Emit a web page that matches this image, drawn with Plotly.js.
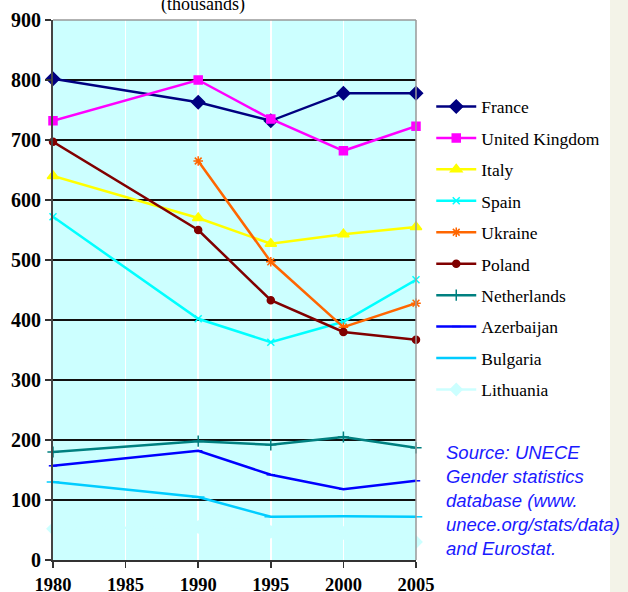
<!DOCTYPE html>
<html>
<head>
<meta charset="utf-8">
<script src="https://cdn.plot.ly/plotly-3.0.1.min.js"></script>
<style>html,body{margin:0;padding:0;background:#fff;}#chart{width:628px;height:592px;}</style>
</head>
<body>
<div id="chart"></div>
<script>
var years = [1980, 1990, 1995, 2000, 2005];
var yearTicks = [1980, 1985, 1990, 1995, 2000, 2005];
var countries = ["France", "United Kingdom", "Italy", "Spain", "Ukraine", "Poland", "Netherlands", "Azerbaijan", "Bulgaria", "Lithuania"];
var france = [802, 763, 732, 778, 778];
var unitedKingdom = [732, 800, 735, 682, 723];
var italy = [640, 570, 527, 543, 555];
var spain = [572, 402, 363, 397, 467];
var ukraine = [null, 665, 497, 388, 428];
var poland = [697, 550, 433, 380, 367];
var netherlands = [180, 198, 192, 205, 187];
var azerbaijan = [157, 182, 142, 118, 132];
var bulgaria = [130, 105, 72, 73, 72];
var lithuania = [52, 55, 47, 45, 30];
var seriesValues = [france, unitedKingdom, italy, spain, ukraine, poland, netherlands, azerbaijan, bulgaria, lithuania];

var colors = ["#000080", "#FF00FF", "#FFFF00", "#00FFFF", "#FF6600", "#800000", "#008080", "#0000FF", "#00CCFF", "#CCFFFF"];
var symbols = ["diamond", "square", "triangle-up", "x-thin-open", "asterisk-open", "circle", "cross-thin-open", "line-ew-open", "line-ew-open", "diamond"];
var sizes = [10, 8, 10, 7, 8, 7, 8, 6, 9, 9];

var traces = countries.map(function (name, i) {
  return {
    x: years, y: seriesValues[i], name: name, type: "scatter", mode: "lines+markers",
    connectgaps: false, cliponaxis: false, legendgroup: "g" + i,
    line: {color: colors[i], width: 2.5},
    marker: {symbol: symbols[i], size: sizes[i], color: colors[i], line: {color: colors[i], width: 1.5}}
  };
});

var serif = "Liberation Serif, Times New Roman, serif";
var layout = {
  width: 628, height: 592,
  margin: {l: 53, r: 212, t: 20, b: 32},
  paper_bgcolor: "#FFFFFF", plot_bgcolor: "#CCFFFF",
  showlegend: true,
  legend: {x: 1.042, xanchor: "left", y: 0.873, yanchor: "top", bgcolor: "rgba(0,0,0,0)",
           font: {family: serif, size: 17.5, color: "#000"}, tracegroupgap: 5.7, traceorder: "grouped", itemwidth: 40},
  xaxis: {range: [1980, 2005], tickvals: yearTicks, ticktext: yearTicks.map(String), showgrid: true, gridcolor: "#FFFFFF", gridwidth: 1.5,
          zeroline: false, ticks: "outside", ticklen: 6, tickcolor: "#333", tickwidth: 1.5, ticklabelstandoff: 1,
          showline: true, linecolor: "#333", linewidth: 2, tickfont: {family: serif, size: 18.5, weight: 700, color: "#000"}},
  yaxis: {range: [0, 900], dtick: 100, showgrid: true, gridcolor: "#111", gridwidth: 1.5, zeroline: false,
          ticks: "outside", ticklen: 6, tickcolor: "#333", tickwidth: 1.5,
          showline: true, linecolor: "#444", linewidth: 2, tickfont: {family: serif, size: 20, weight: 700, color: "#000"}},
  shapes: [
    {type: "line", xref: "paper", yref: "paper", x0: 0, x1: 1, y0: 1, y1: 1, line: {color: "#999", width: 1.5}, layer: "above"},
    {type: "line", xref: "paper", yref: "paper", x0: 1, x1: 1, y0: 0, y1: 1, line: {color: "#999", width: 1.5}, layer: "above"},
    {type: "rect", xref: "paper", yref: "paper", x0: (610 - 53) / 363, x1: (640 - 53) / 363, y0: -0.1, y1: 1.1,
     fillcolor: "#F3F3E8", line: {width: 0}, layer: "below"}
  ],
  annotations: [
    {text: "(thousands)", xref: "paper", yref: "paper", x: (203 - 53) / 363, y: 1, xanchor: "center", yanchor: "bottom",
     yshift: 3, showarrow: false, font: {family: serif, size: 18, color: "#000"}},
    {text: "Source: UNECE<br>Gender statistics<br>database (www.<br>unece.org/stats/data)<br>and Eurostat.",
     xref: "paper", yref: "paper", x: (444 - 53) / 363, y: (560 - 500) / 540, xanchor: "left", yanchor: "middle", align: "left",
     showarrow: false, font: {family: "Liberation Sans, Arial, sans-serif", size: 18.5, color: "#1A1AFF", style: "italic"}}
  ]
};
Plotly.newPlot("chart", traces, layout, {displayModeBar: false, staticPlot: true});
</script>
</body>
</html>
